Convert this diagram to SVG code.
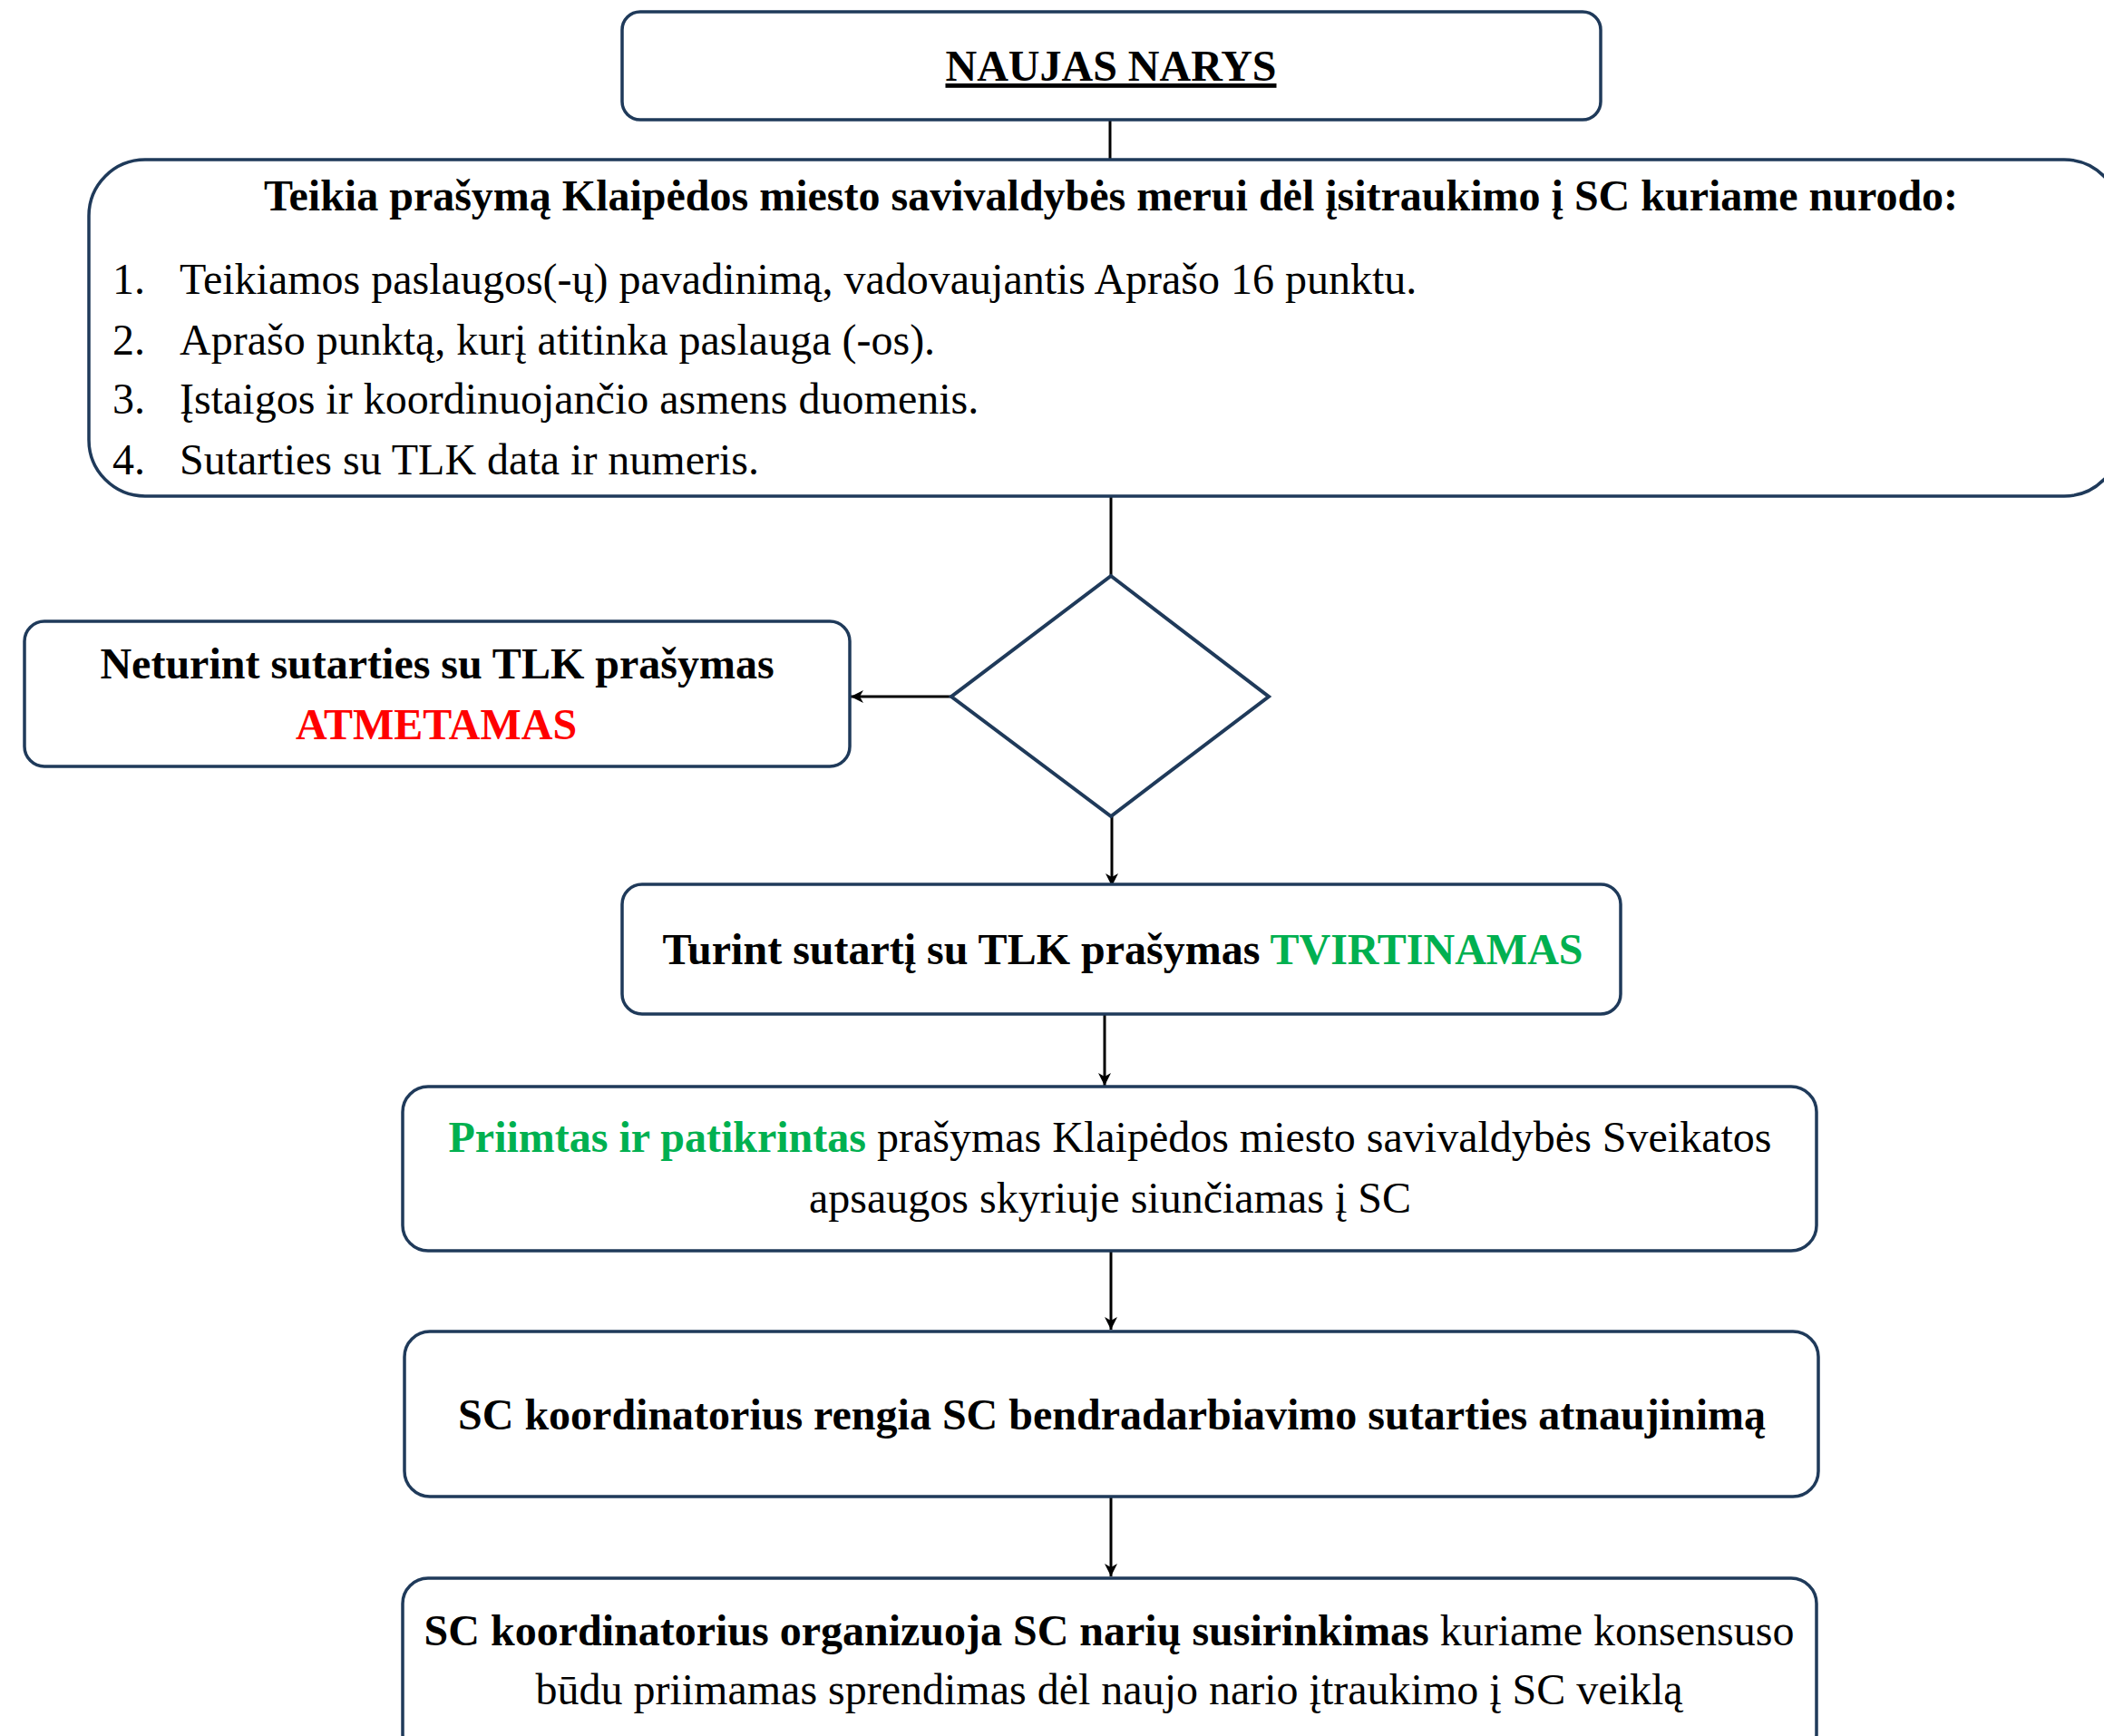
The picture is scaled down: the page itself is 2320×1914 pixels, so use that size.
<svg xmlns="http://www.w3.org/2000/svg" width="2320" height="1914" viewBox="0 0 2320 1914">
<style>
.box{fill:#fff;stroke:#1F3A5A;stroke-width:3.5}
.t{font-family:"Liberation Serif","Times New Roman",serif;font-size:48px;fill:#000}
.b{font-weight:bold}
.c{text-anchor:middle}
.red{fill:#FF0000}
.grn{fill:#00B050}
.ln{stroke:#000;stroke-width:3;fill:none}
</style>
<defs>
<marker id="ah" markerUnits="userSpaceOnUse" markerWidth="16" markerHeight="14" refX="14" refY="7" orient="auto">
<path d="M0,0 L14,7 L0,14 L4,7 Z" fill="#000"/>
</marker>
</defs>
<rect width="2320" height="1914" fill="#fff"/>
<g id="connectors">
<line class="ln" x1="1224" y1="132" x2="1224" y2="176"/>
<line class="ln" x1="1225" y1="547" x2="1225" y2="634"/>
<line class="ln" x1="1049" y1="768" x2="938" y2="768" marker-end="url(#ah)"/>
<line class="ln" x1="1226" y1="900" x2="1226" y2="977" marker-end="url(#ah)"/>
<line class="ln" x1="1218" y1="1118" x2="1218" y2="1197" marker-end="url(#ah)"/>
<line class="ln" x1="1225" y1="1379" x2="1225" y2="1466" marker-end="url(#ah)"/>
<line class="ln" x1="1225" y1="1650" x2="1225" y2="1738" marker-end="url(#ah)"/>
</g>
<g id="naujas-narys">
<rect class="box" x="686" y="13" width="1079" height="119" rx="20"/>
<text class="t b c" x="1225" y="89" text-decoration="underline">NAUJAS NARYS</text>
</g>
<g id="prasymas">
<rect class="box" x="98" y="176" width="2240" height="371" rx="62"/>
<text class="t b c" x="1225" y="232">Teikia prašymą Klaipėdos miesto savivaldybės merui dėl įsitraukimo į SC kuriame nurodo:</text>
<text class="t" x="124" y="324">1.</text>
<text class="t" x="198" y="324">Teikiamos paslaugos(-ų) pavadinimą, vadovaujantis Aprašo 16 punktu.</text>
<text class="t" x="124" y="391">2.</text>
<text class="t" x="198" y="391">Aprašo punktą, kurį atitinka paslauga (-os).</text>
<text class="t" x="124" y="456">3.</text>
<text class="t" x="198" y="456">Įstaigos ir koordinuojančio asmens duomenis.</text>
<text class="t" x="124" y="523">4.</text>
<text class="t" x="198" y="523">Sutarties su TLK data ir numeris.</text>
</g>
<g id="decision">
<polygon points="1225,635 1399,768 1225,900 1049,768" fill="#fff" stroke="#1F3A5A" stroke-width="4"/>
</g>
<g id="atmetamas">
<rect class="box" x="27" y="685" width="910" height="160" rx="22"/>
<text class="t b c" x="482" y="748">Neturint sutarties su TLK prašymas</text>
<text class="t b c red" x="481" y="815">ATMETAMAS</text>
</g>
<g id="tvirtinamas">
<rect class="box" x="686" y="975" width="1101" height="143" rx="22"/>
<text class="t b c" x="1238" y="1063">Turint sutartį su TLK prašymas <tspan class="grn">TVIRTINAMAS</tspan></text>
</g>
<g id="priimtas">
<rect class="box" x="444" y="1198" width="1559" height="181" rx="28"/>
<text class="t c" x="1224" y="1270"><tspan class="b grn">Priimtas ir patikrintas</tspan> prašymas Klaipėdos miesto savivaldybės Sveikatos</text>
<text class="t c" x="1224" y="1337">apsaugos skyriuje siunčiamas į SC</text>
</g>
<g id="rengia">
<rect class="box" x="446" y="1468" width="1559" height="182" rx="28"/>
<text class="t b c" x="1226" y="1576">SC koordinatorius rengia SC bendradarbiavimo sutarties atnaujinimą</text>
</g>
<g id="susirinkimas">
<rect class="box" x="444" y="1740" width="1559" height="200" rx="28"/>
<text class="t c" x="1223" y="1814"><tspan class="b">SC koordinatorius organizuoja SC narių susirinkimas</tspan> kuriame konsensuso</text>
<text class="t c" x="1223" y="1879">būdu priimamas sprendimas dėl naujo nario įtraukimo į SC veiklą</text>
</g>
</svg>
